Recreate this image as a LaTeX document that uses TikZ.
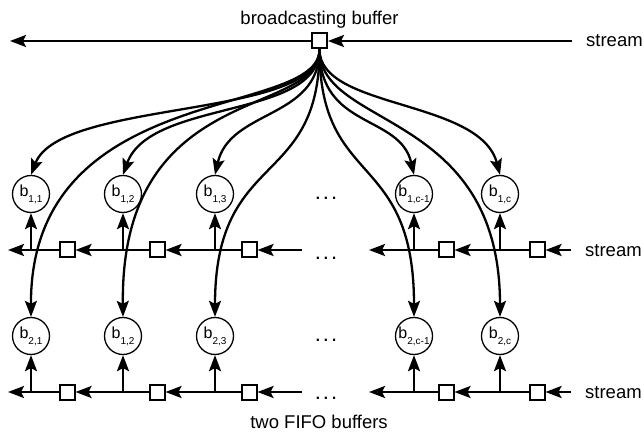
\documentclass[tikz,border=0pt]{standalone}
\usepackage{fontspec}
\setmainfont{Liberation Sans}
\usetikzlibrary{arrows.meta}
\newcommand\celllab[1]{{\fontsize{16}{17}\selectfont b\raisebox{-6pt}{\fontsize{10}{11}\selectfont #1}}}
\begin{document}
\begin{tikzpicture}[x=1pt,y=-1pt,
  line width=2.3pt,
  arr/.style={-{Stealth[length=16pt,width=12pt,inset=3pt]}},
  buf/.style={draw, fill=white, minimum size=15pt, inner sep=0pt, line width=2pt},
  cell/.style={draw, circle, minimum size=37pt, inner sep=0pt, line width=1.3pt},
  lbl/.style={font=\fontsize{18.5}{20}\selectfont, inner sep=0pt},
  dotsty/.style={font=\fontsize{22}{24}\selectfont, inner sep=0pt, anchor=base}]
\useasboundingbox (0,0) rectangle (644,435);

% broadcasting buffer
\node[buf] (bb) at (319.5,41) {};
\node[lbl, anchor=base] (bbt) at (319.5,25) {broadcasting buffer};
\node[lbl, anchor=west] (st0) at (585,41) {stream};
\coordinate (tL) at (10,41);
\coordinate (tR) at (572,41);
\draw[arr] (bb.west) -- (tL);
\draw[arr] (tR) -- (bb.east);

% row 1
\node[cell] (b11) at (31,194) {\celllab{1,1}};
\node[cell] (b12) at (123,194) {\celllab{1,2}};
\node[cell] (b13) at (215,194) {\celllab{1,3}};
\node[cell] (b14) at (414,194) {\celllab{1,c-1}};
\node[cell] (b15) at (500,194) {\celllab{1,c}};
\coordinate (j11) at (31,250);
\coordinate (j12) at (123,250);
\coordinate (j13) at (215,250);
\coordinate (j14) at (414,250);
\coordinate (j15) at (500,250);
\coordinate (r1L) at (8,250);
\coordinate (r1M) at (302,250);
\coordinate (r1N) at (369,250);
\coordinate (r1R) at (571,250);

% row 2
\node[cell] (b21) at (31,336) {\celllab{2,1}};
\node[cell] (b22) at (123,336) {\celllab{1,2}};
\node[cell] (b23) at (215,336) {\celllab{2,3}};
\node[cell] (b24) at (414,336) {\celllab{2,c-1}};
\node[cell] (b25) at (500,336) {\celllab{2,c}};
\coordinate (j21) at (31,392);
\coordinate (j22) at (123,392);
\coordinate (j23) at (215,392);
\coordinate (j24) at (414,392);
\coordinate (j25) at (500,392);
\coordinate (r2L) at (8,392);
\coordinate (r2M) at (302,392);
\coordinate (r2N) at (369,392);
\coordinate (r2R) at (571,392);

% curves from broadcasting buffer
\draw[arr] (bb.south) .. controls +(0,70) and +(29,-76) .. (b11.north);
\draw[arr] (bb.south) .. controls +(0,70) and +(27,-76) .. (b12.north);
\draw[arr] (bb.south) .. controls +(0,70) and +(15,-66) .. (b13.north);
\draw[arr] (bb.south) .. controls +(0,80) and +(-14,-61) .. (b14.north);
\draw[arr] (bb.south) .. controls +(0,60) and +(-20,-76) .. (b15.north);
\draw[arr] (bb.south) .. controls +(0,70) and +(-1,-238) .. (b21.north);
\draw[arr] (bb.south) .. controls +(0,70) and +(-3,-238) .. (b22.north);
\draw[arr] (bb.south) .. controls +(0,140) and +(0,-168) .. (b23.north);
\draw[arr] (bb.south) .. controls +(0,140) and +(0,-168) .. (b24.north);
\draw[arr] (bb.south) .. controls +(0,80) and +(0,-208) .. (b25.north);

% row 1 FIFO
\node[buf] (s11) at (67,250) {};
\node[buf] (s12) at (157,250) {};
\node[buf] (s13) at (249,250) {};
\node[buf] (s14) at (446,250) {};
\node[buf] (s15) at (537,250) {};
\draw[arr] (r1M) -- (s13.east);
\draw[arr] (s13.west) -- (s12.east);
\draw[arr] (s12.west) -- (s11.east);
\draw[arr] (s11.west) -- (r1L);
\draw[arr] (r1R) -- (s15.east);
\draw[arr] (s15.west) -- (s14.east);
\draw[arr] (s14.west) -- (r1N);
\draw[arr] (j11) -- (b11.south);
\draw[arr] (j12) -- (b12.south);
\draw[arr] (j13) -- (b13.south);
\draw[arr] (j14) -- (b14.south);
\draw[arr] (j15) -- (b15.south);
\node[lbl, anchor=west] (st1) at (584,250.5) {stream};
\node[dotsty] (d1a) at (326,199.5) {.\hspace{2pt}.\hspace{2pt}.};
\node[dotsty] (d1b) at (326,259.5) {.\hspace{2pt}.\hspace{2pt}.};

% row 2 FIFO
\node[buf] (s21) at (67,392) {};
\node[buf] (s22) at (157,392) {};
\node[buf] (s23) at (249,392) {};
\node[buf] (s24) at (446,392) {};
\node[buf] (s25) at (537,392) {};
\draw[arr] (r2M) -- (s23.east);
\draw[arr] (s23.west) -- (s22.east);
\draw[arr] (s22.west) -- (s21.east);
\draw[arr] (s21.west) -- (r2L);
\draw[arr] (r2R) -- (s25.east);
\draw[arr] (s25.west) -- (s24.east);
\draw[arr] (s24.west) -- (r2N);
\draw[arr] (j21) -- (b21.south);
\draw[arr] (j22) -- (b22.south);
\draw[arr] (j23) -- (b23.south);
\draw[arr] (j24) -- (b24.south);
\draw[arr] (j25) -- (b25.south);
\node[lbl, anchor=west] (st2) at (584,392.5) {stream};
\node[dotsty] (d2a) at (326,341.5) {.\hspace{2pt}.\hspace{2pt}.};
\node[dotsty] (d2b) at (326,399.5) {.\hspace{2pt}.\hspace{2pt}.};

\node[lbl, anchor=base] (fifo) at (319,428) {two FIFO buffers};
\end{tikzpicture}
\end{document}
